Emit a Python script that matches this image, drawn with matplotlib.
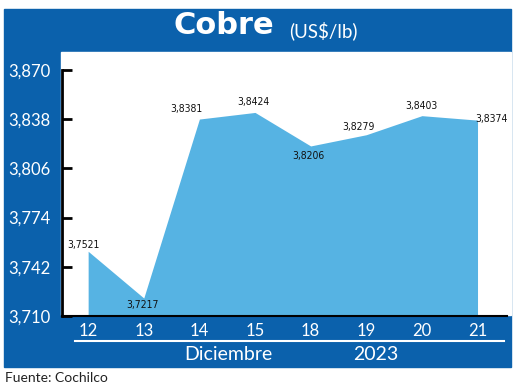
import matplotlib
matplotlib.use("Agg")
import matplotlib.pyplot as plt
from matplotlib.patches import Rectangle
from matplotlib.lines import Line2D

# data
days = ["12", "13", "14", "15", "18", "19", "20", "21"]
prices = [3.7521, 3.7217, 3.8381, 3.8424, 3.8206, 3.8279, 3.8403, 3.8374]
price_labels = ["3,7521", "3,7217", "3,8381", "3,8424", "3,8206", "3,8279", "3,8403", "3,8374"]
yticks = [3.710, 3.742, 3.774, 3.806, 3.838, 3.870]
ytick_labels = ["3,710", "3,742", "3,774", "3,806", "3,838", "3,870"]

# label offsets in pixels (dx, dy up)
offs = [(-5, 6), (-1, -7), (-13, 10), (-2, 10), (-2, -10), (-8, 8), (0, 10), (14, 1)]

dark_blue = "#0b61ac"
light_blue = "#56b3e3"

W, H = 520, 389
fig = plt.figure(figsize=(W / 100, H / 100), dpi=100)

def fx(px):
    return px / W

def fy(py):
    return 1 - py / H

# blue frame and white plot area
fig.patches.append(Rectangle((fx(4), fy(367)), fx(511) - fx(4), fy(9) - fy(367),
                             transform=fig.transFigure, color=dark_blue, zorder=-2))
fig.patches.append(Rectangle((fx(61), fy(315)), fx(511) - fx(61), fy(52) - fy(315),
                             transform=fig.transFigure, color="white", zorder=-1))

ax = fig.add_axes([fx(62), fy(316), fx(507) - fx(62), fy(70) - fy(316)])
ax.set_facecolor("none")

x = list(range(len(days)))
ax.fill_between(x, prices, 3.710, color=light_blue, linewidth=0, zorder=1)

for i in x:
    dx, dy = offs[i]
    ax.annotate(price_labels[i], (x[i], prices[i]), xytext=(dx * 0.72, dy * 0.72),
                textcoords="offset points", ha="center", va="center", fontsize=7.5,
                family=["Liberation Sans Narrow", "DejaVu Sans"], fontstretch="condensed",
                color="#111111")

ax.set_xlim(-0.47, 7.53)
ax.set_ylim(3.710, 3.870)
ax.set_yticks(yticks)
ax.set_yticklabels(ytick_labels)
ax.set_xticks(x)
ax.set_xticklabels(days)

for s in ["top", "right"]:
    ax.spines[s].set_visible(False)
ax.spines["left"].set_linewidth(2)
ax.spines["bottom"].set_linewidth(1.5)
ax.spines["left"].set_zorder(3)
ax.spines["bottom"].set_zorder(3)

ax.tick_params(axis="y", direction="in", length=7, width=2, pad=8,
               labelcolor="white", labelsize=12)
ax.tick_params(axis="x", length=0, pad=5, labelcolor="white", labelsize=12)
for t in ax.get_xticklabels() + ax.get_yticklabels():
    t.set_family("Lato")

# title
fig.text(fx(224), fy(25), "Cobre", color="white", fontsize=22, fontweight="bold",
         family="DejaVu Sans", ha="center", va="center")
fig.text(fx(289), fy(31), "(US$/lb)", color="white", fontsize=13.5,
         family="Lato", ha="left", va="center")

# bottom band
fig.lines.append(Line2D([fx(75), fx(504)], [fy(341), fy(341)], transform=fig.transFigure,
                        color="white", linewidth=1.5))
fig.text(fx(228), fy(354), "Diciembre", color="white", fontsize=14, family="Lato",
         ha="center", va="center")
fig.text(fx(376), fy(354), "2023", color="white", fontsize=14, family="Lato",
         ha="center", va="center")

fig.text(fx(5), fy(378), "Fuente: Cochilco", color="#222222", fontsize=10, family="Lato",
         ha="left", va="center")

fig.savefig("out.png", dpi=100)
